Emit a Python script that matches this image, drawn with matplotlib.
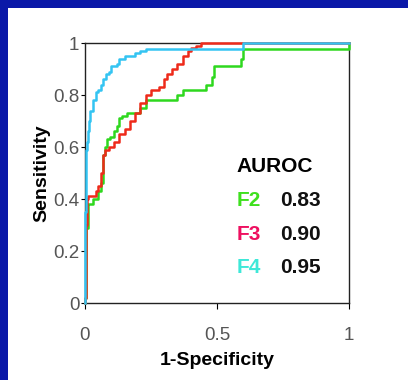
import matplotlib
matplotlib.use('Agg')
import matplotlib.pyplot as plt
from matplotlib.patches import Rectangle

plt.rcParams['font.family'] = ['Liberation Sans', 'DejaVu Sans']

# ROC vertices (1-specificity, sensitivity)
f2_fpr = [0.0, 0.005, 0.01, 0.01, 0.015, 0.03, 0.04, 0.05, 0.06, 0.07, 0.075, 0.085,
          0.095, 0.11, 0.12, 0.13, 0.14, 0.16, 0.19, 0.21, 0.23, 0.25, 0.35, 0.37, 0.39,
          0.46, 0.48, 0.49, 0.51, 0.59, 0.60, 0.61, 1.0, 1.0]
f2_tpr = [0.0, 0.02, 0.29, 0.33, 0.38, 0.38, 0.40, 0.40, 0.43, 0.46, 0.57, 0.60,
          0.63, 0.64, 0.66, 0.68, 0.71, 0.72, 0.73, 0.73, 0.75, 0.78, 0.78, 0.80, 0.82,
          0.82, 0.84, 0.87, 0.91, 0.91, 0.94, 0.977, 0.977, 1.0]

f3_fpr = [0.0, 0.005, 0.008, 0.012, 0.02, 0.04, 0.05, 0.06, 0.07, 0.075, 0.09, 0.11,
          0.13, 0.15, 0.17, 0.19, 0.21, 0.23, 0.25, 0.28, 0.30, 0.31, 0.33, 0.35,
          0.37, 0.39, 0.40, 0.42, 0.44, 0.46, 1.0]
f3_tpr = [0.0, 0.02, 0.30, 0.40, 0.41, 0.41, 0.43, 0.45, 0.50, 0.57, 0.59, 0.60,
          0.62, 0.65, 0.67, 0.70, 0.73, 0.77, 0.80, 0.82, 0.83, 0.86, 0.88, 0.90,
          0.92, 0.95, 0.97, 0.98, 0.99, 1.0, 1.0]

f4_fpr = [0.0, 0.003, 0.006, 0.01, 0.015, 0.02, 0.03, 0.04, 0.05, 0.06, 0.07, 0.08,
          0.09, 0.10, 0.12, 0.13, 0.15, 0.17, 0.19, 0.21, 0.23, 0.25, 0.60, 0.61, 1.0]
f4_tpr = [0.0, 0.35, 0.59, 0.62, 0.66, 0.70, 0.74, 0.78, 0.81, 0.82, 0.84, 0.86,
          0.88, 0.89, 0.91, 0.92, 0.94, 0.95, 0.95, 0.96, 0.97, 0.977, 0.977, 1.0, 1.0]

labels = ['F2', 'F3', 'F4']
auroc = ['0.83', '0.90', '0.95']
line_colors = ['#2ed81e', '#ee2a1a', '#33c4f2']
text_colors = ['#3ee01e', '#ee1060', '#3ee8d8']

fig = plt.figure(figsize=(4.08, 3.80), dpi=100, facecolor='#0a18a8')
# white slide panel behind the chart
fig.patches.append(Rectangle((8 / 408, 0), 1, 1 - 8 / 380, transform=fig.transFigure,
                             facecolor='white', edgecolor='none', zorder=-10))

ax = fig.add_axes([85 / 408, 77 / 380, 264 / 408, 260 / 380])
ax.set_facecolor('white')

for xs, ys, c in zip([f2_fpr, f3_fpr, f4_fpr], [f2_tpr, f3_tpr, f4_tpr], line_colors):
    ax.plot(xs, ys, color=c, lw=1.8, drawstyle='steps-pre', clip_on=False, zorder=3)

ax.set_xlim(0, 1)
ax.set_ylim(0, 1)
ax.set_xticks([0, 0.5, 1])
ax.set_xticklabels(['0', '0.5', '1'])
ax.set_yticks([0, 0.2, 0.4, 0.6, 0.8, 1])
ax.set_yticklabels(['0', '0.2', '0.4', '0.6', '0.8', '1'])
ax.tick_params(axis='x', length=4, pad=13, labelsize=13.5, labelcolor='#555555')
ax.tick_params(axis='y', length=3, pad=1, labelsize=13.5, labelcolor='#555555')
for s in ax.spines.values():
    s.set_linewidth(1.0)
    s.set_color('#222222')

ax.set_xlabel('1-Specificity', fontsize=14, fontweight='bold', labelpad=6)
ax.set_ylabel('Sensitivity', fontsize=14, fontweight='bold', labelpad=2)

ax.text(0.575, 0.525, 'AUROC', transform=ax.transAxes, fontsize=15,
        fontweight='bold', color='black', va='center')
for i, (lab, val, tc) in enumerate(zip(labels, auroc, text_colors)):
    yy = 0.395 - i * 0.13
    ax.text(0.575, yy, lab, transform=ax.transAxes, fontsize=15,
            fontweight='bold', color=tc, va='center')
    ax.text(0.74, yy, val, transform=ax.transAxes, fontsize=15,
            fontweight='bold', color='#111111', va='center')

fig.savefig('out.png', dpi=100, facecolor=fig.get_facecolor())
